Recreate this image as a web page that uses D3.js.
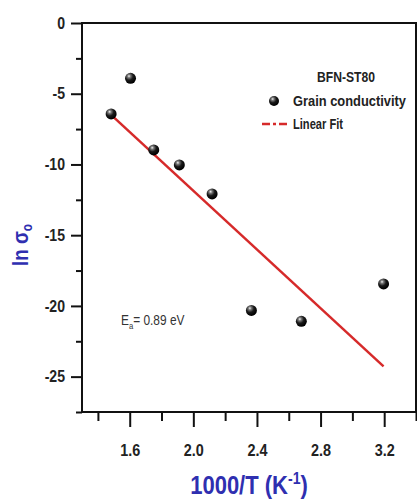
<!DOCTYPE html>
<html>
<head>
<meta charset="utf-8">
<script src="https://cdn.jsdelivr.net/npm/d3@7"></script>
<style>
  html, body { margin: 0; padding: 0; background: #fff; }
  svg { display: block; }
  text { font-family: "Liberation Sans", Arial, sans-serif; }
</style>
</head>
<body>
<svg id="chart" width="417" height="501"></svg>
<script>
// ---- data ----
const inverseT = [1.483, 1.605, 1.751, 1.912, 2.118, 2.365, 2.679, 3.196];
const lnSigma = [-6.43, -3.91, -8.97, -10.03, -12.08, -20.32, -21.09, -18.45];
const fitX = [1.49, 3.196];
const fitY = [-6.57, -24.27];
const xMajorTicks = [1.6, 2.0, 2.4, 2.8, 3.2];
const xMinorTicks = [1.4, 1.8, 2.2, 2.6, 3.0, 3.4];
const yMajorTicks = [0, -5, -10, -15, -20, -25];
const yMinorTicks = [-2.5, -7.5, -12.5, -17.5, -22.5, -27.5];
const seriesName = "Grain conductivity";
const fitName = "Linear Fit";
const sampleName = "BFN-ST80";

// ---- layout ----
const svg = d3.select("#chart");
const L = 82, R = 416, T = 23, B = 412;
const x = d3.scaleLinear().domain([1.3, 3.4]).range([L, R]);
const y = d3.scaleLinear().domain([-27.5, 0]).range([B, T]);

const defs = svg.append("defs");
const grad = defs.append("radialGradient").attr("id", "ball")
  .attr("cx", "38%").attr("cy", "32%").attr("r", "65%").attr("fx", "36%").attr("fy", "30%");
grad.append("stop").attr("offset", "0%").attr("stop-color", "#f4f4f4");
grad.append("stop").attr("offset", "22%").attr("stop-color", "#7a7a7a");
grad.append("stop").attr("offset", "55%").attr("stop-color", "#1a1a1a");
grad.append("stop").attr("offset", "100%").attr("stop-color", "#000");

// frame
svg.append("rect").attr("x", L).attr("y", T).attr("width", R - L).attr("height", B - T)
  .attr("fill", "none").attr("stroke", "#111").attr("stroke-width", 2);

// axes
const hyphenFmt = f => d => f(d).replace("\u2212", "-");
function styleAxis(g) {
  g.select(".domain").remove();
  g.selectAll("line").attr("stroke", "#111").attr("stroke-width", 2);
  g.selectAll("text").attr("fill", "#222").attr("font-size", 16).attr("font-weight", "bold");
}
svg.append("g").attr("transform", `translate(0,${B})`)
  .call(d3.axisBottom(x).tickValues(xMinorTicks).tickSize(9).tickFormat(""))
  .call(styleAxis);
svg.append("g").attr("transform", `translate(0,${B})`)
  .call(d3.axisBottom(x).tickValues(xMajorTicks).tickSize(15).tickPadding(18).tickFormat(hyphenFmt(d3.format(".1f"))))
  .call(styleAxis)
  .call(g => g.selectAll("text").attr("transform", "scale(0.9,1)"));
svg.append("g").attr("transform", `translate(${L},0)`)
  .call(d3.axisLeft(y).tickValues(yMinorTicks).tickSize(6).tickFormat(""))
  .call(styleAxis);
svg.append("g").attr("transform", `translate(${L},0)`)
  .call(d3.axisLeft(y).tickValues(yMajorTicks).tickSize(11).tickPadding(6).tickFormat(hyphenFmt(d3.format("d"))))
  .call(styleAxis)
  .call(g => g.selectAll("text").attr("x", 0).attr("transform", "translate(-17,0) scale(0.88,1)"));

// fit line
const fitData = fitX.map((v, i) => [v, fitY[i]]);
svg.append("path").datum(fitData)
  .attr("d", d3.line().x(d => x(d[0])).y(d => y(d[1])))
  .attr("fill", "none").attr("stroke", "#d62a2a").attr("stroke-width", 2.5);

// points
svg.append("g").selectAll("circle").data(inverseT.map((v, i) => [v, lnSigma[i]]))
  .join("circle")
  .attr("cx", d => x(d[0])).attr("cy", d => y(d[1])).attr("r", 5.5)
  .attr("fill", "url(#ball)");

// legend
function fitWidth(sel, w) {
  sel.attr("textLength", w).attr("lengthAdjust", "spacingAndGlyphs");
}
svg.append("text").attr("x", 317).attr("y", 82)
  .attr("font-size", 14).attr("font-weight", "bold").attr("fill", "#222").text(sampleName)
  .call(fitWidth, 58);
svg.append("circle").attr("cx", 274).attr("cy", 101).attr("r", 5).attr("fill", "url(#ball)");
svg.append("text").attr("x", 293).attr("y", 106)
  .attr("font-size", 14).attr("font-weight", "bold").attr("fill", "#222").text(seriesName)
  .call(fitWidth, 113);
svg.append("line").attr("x1", 262).attr("x2", 290).attr("y1", 124).attr("y2", 124)
  .attr("stroke", "#d62a2a").attr("stroke-width", 2.5).attr("stroke-dasharray", "8,3,3,3");
svg.append("text").attr("x", 293).attr("y", 129)
  .attr("font-size", 14).attr("font-weight", "bold").attr("fill", "#222").text(fitName)
  .call(fitWidth, 50);

// activation energy annotation
const ea = svg.append("text").attr("transform", "translate(121,325) scale(0.85,1)")
  .attr("font-size", 14).attr("fill", "#333");
ea.append("tspan").text("E");
ea.append("tspan").attr("font-size", 9).attr("dy", 4).text("a");
ea.append("tspan").attr("dy", -4).text("= 0.89 eV");

// axis titles
const xt = svg.append("text").attr("transform", "translate(249,494) scale(0.88,1)").attr("text-anchor", "middle")
  .attr("font-size", 25).attr("font-weight", "bold").attr("fill", "#2f2fb0");
xt.append("tspan").text("1000/T (K");
xt.append("tspan").attr("font-size", 16).attr("dy", -10).text("-1");
xt.append("tspan").attr("dy", 10).text(")");

const yt = svg.append("text").attr("transform", "translate(28,245) rotate(-90) scale(0.85,1)")
  .attr("text-anchor", "middle").attr("font-size", 22).attr("font-weight", "bold").attr("fill", "#2f2fb0");
yt.append("tspan").text("ln σ");
yt.append("tspan").attr("font-size", 14).attr("dy", 4).text("o");
</script>
</body>
</html>
